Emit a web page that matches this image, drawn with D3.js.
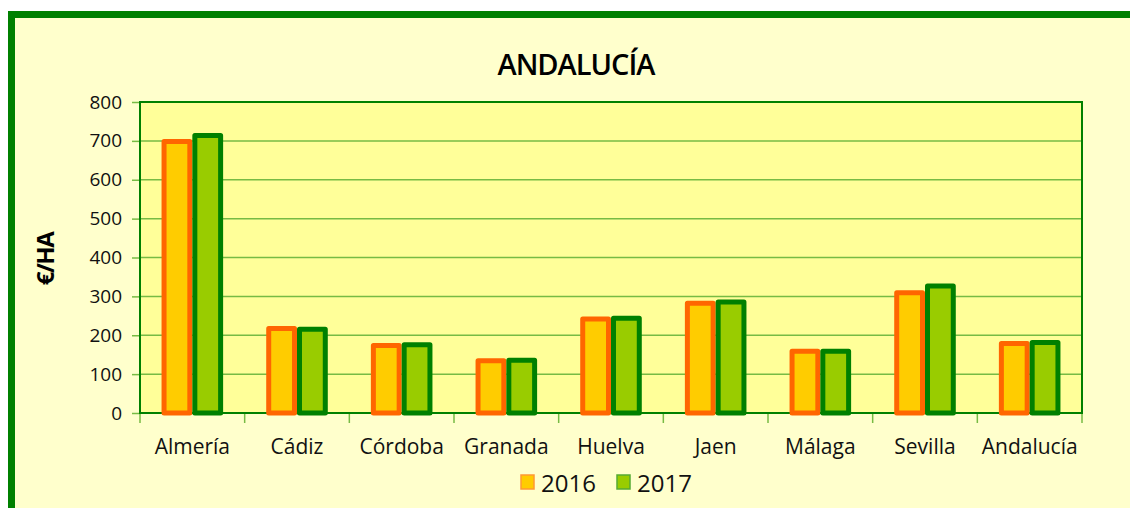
<!DOCTYPE html>
<html>
<head>
<meta charset="utf-8">
<script src="https://cdn.jsdelivr.net/npm/d3@7"></script>
<style>
  body { margin: 0; background: #fff; }
  svg { display: block; font-family: "Open Sans", "DejaVu Sans", sans-serif; }
</style>
</head>
<body>
<svg id="chart" width="1130" height="508"></svg>
<script>
var categories = ["Almería", "Cádiz", "Córdoba", "Granada", "Huelva", "Jaen", "Málaga", "Sevilla", "Andalucía"];
var years = ["2016", "2017"];
var values2016 = [705, 224, 180, 141, 248, 289, 165, 316, 185];
var values2017 = [720, 222, 182, 142, 250, 292, 165, 333, 188];
var yTicks = [0, 100, 200, 300, 400, 500, 600, 700, 800];

var fills = ["#ffcc00", "#99cc00"];
var strokes = ["#ff6600", "#008000"];

var svg = d3.select('#chart');

// outer frame
svg.append('rect')
  .attr('x', 11.5).attr('y', 14.5)
  .attr('width', 1140).attr('height', 520)
  .attr('fill', '#ffffcc')
  .attr('stroke', '#008000').attr('stroke-width', 7);

var pLeft = 140, pTop = 102, pRight = 1082, pBottom = 413;

var x = d3.scaleBand().domain(categories).range([pLeft, pRight]);
var xs = d3.scaleBand().domain(years).range([0, x.bandwidth()]).paddingInner(0).paddingOuter(0.7);
var y = d3.scaleLinear().domain([0, 800]).range([pBottom, pTop]);

// plot area
svg.append('rect')
  .attr('x', pLeft).attr('y', pTop)
  .attr('width', pRight - pLeft).attr('height', pBottom - pTop)
  .attr('fill', '#ffff99');

// gridlines
svg.append('g')
  .selectAll('line')
  .data(yTicks.slice(1, -1))
  .enter()
  .append('line')
  .attr('x1', pLeft).attr('x2', pRight)
  .attr('y1', d => y(d)).attr('y2', d => y(d))
  .attr('stroke', '#77bb44').attr('stroke-width', 1.5);

// y axis
var yAxis = svg.append('g')
  .attr('transform', 'translate(' + pLeft + ',0)')
  .call(d3.axisLeft(y).tickValues(yTicks).tickSize(8).tickPadding(10));
yAxis.select('.domain').remove();
yAxis.selectAll('line').attr('stroke', '#77bb44').attr('stroke-width', 1.5);
yAxis.selectAll('text').attr('font-size', '19px').attr('fill', '#111').attr('font-family', '"Open Sans", sans-serif');

// x axis ticks (boundaries)
var bounds = categories.map(c => x(c)).concat([pRight]);
svg.append('g')
  .selectAll('line')
  .data(bounds)
  .enter()
  .append('line')
  .attr('x1', d => d).attr('x2', d => d)
  .attr('y1', pBottom).attr('y2', pBottom + 10)
  .attr('stroke', '#77bb44').attr('stroke-width', 1.5);

svg.append('g')
  .selectAll('text')
  .data(categories)
  .enter()
  .append('text')
  .attr('x', d => x(d) + x.bandwidth() / 2)
  .attr('y', 454)
  .attr('text-anchor', 'middle')
  .attr('font-size', '21px')
  .attr('fill', '#111')
  .text(d => d);

// plot frame
svg.append('rect')
  .attr('x', pLeft).attr('y', pTop)
  .attr('width', pRight - pLeft).attr('height', pBottom - pTop)
  .attr('fill', 'none')
  .attr('stroke', '#008000').attr('stroke-width', 2);

// bars
var series = [values2016, values2017];
series.forEach(function (vals, si) {
  svg.append('g')
    .selectAll('rect')
    .data(vals)
    .enter()
    .append('rect')
    .attr('x', (d, i) => x(categories[i]) + xs(years[si]) + 2.5)
    .attr('y', d => y(d) + 2.5)
    .attr('width', xs.bandwidth() - 5)
    .attr('height', d => pBottom - y(d) - 2.5)
    .attr('fill', fills[si])
    .attr('stroke', strokes[si])
    .attr('stroke-width', 5)
    .attr('stroke-linejoin', 'round');
});

// title
svg.append('text')
  .attr('x', 576).attr('y', 75)
  .attr('text-anchor', 'middle')
  .attr('font-size', '29px')
  .attr('font-weight', '600')
  .attr('fill', '#000')
  .attr('letter-spacing', '-1px')
  .text('ANDALUCÍA');

// y label
svg.append('text')
  .attr('transform', 'translate(54,259) rotate(-90)')
  .attr('text-anchor', 'middle')
  .attr('font-size', '24px')
  .attr('font-weight', 'bold')
  .attr('fill', '#000')
  .attr('letter-spacing', '-1.5px')
  .text('€/HA');

// legend
var legendX = [521, 617];
years.forEach(function (yr, i) {
  var g = svg.append('g').attr('transform', 'translate(' + legendX[i] + ',475)');
  g.append('rect')
    .attr('width', 13).attr('height', 14)
    .attr('fill', fills[i])
    .attr('stroke', i === 0 ? '#ff9933' : '#55aa33')
    .attr('stroke-width', 1.5);
  g.append('text')
    .attr('x', 20).attr('y', 17)
    .attr('font-size', '24px')
    .attr('fill', '#111')
    .text(yr);
});
</script>
</body>
</html>
